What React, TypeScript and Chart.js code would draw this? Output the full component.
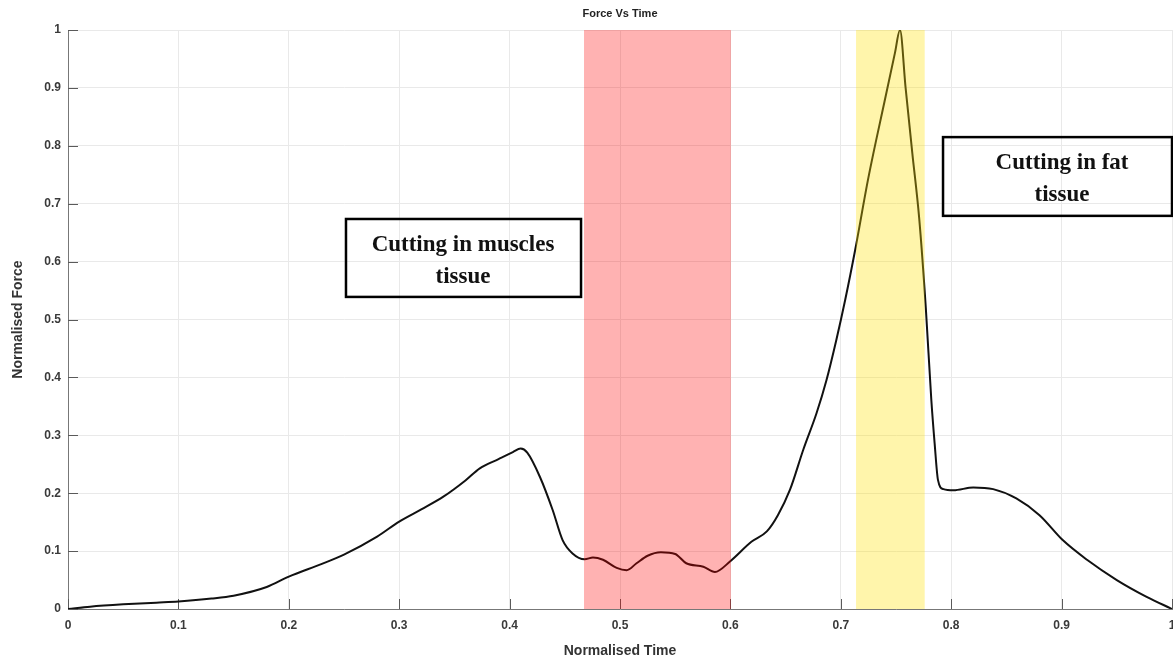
import React, { useEffect, useRef } from "react";
import { Chart, registerables } from "chart.js";

Chart.register(...registerables);

// ---- Data ----
const TIME = [
  0, 0.02, 0.05, 0.08, 0.1, 0.13, 0.15, 0.18, 0.2, 0.23, 0.25, 0.28, 0.3, 0.32, 0.34, 0.36, 0.373, 0.39,
  0.403, 0.41, 0.416, 0.4275, 0.439, 0.448, 0.457, 0.468, 0.4755, 0.4846, 0.497, 0.506, 0.515, 0.525,
  0.537, 0.55, 0.56, 0.5755, 0.586, 0.5996, 0.619, 0.633, 0.643, 0.654, 0.666, 0.678, 0.687, 0.696,
  0.704, 0.713, 0.725, 0.74, 0.749, 0.7536, 0.7587, 0.7648, 0.771, 0.777, 0.782, 0.785, 0.788, 0.793,
  0.802, 0.82, 0.838, 0.859, 0.88, 0.901, 0.923, 0.95, 0.977, 1.0,
];
const FORCE = [
  0, 0.004, 0.008, 0.011, 0.013, 0.018, 0.023, 0.038, 0.056, 0.078, 0.094, 0.125, 0.151, 0.172, 0.194,
  0.222, 0.243, 0.259, 0.271, 0.277, 0.27, 0.228, 0.171, 0.119, 0.096, 0.086, 0.089, 0.085, 0.071, 0.067,
  0.079, 0.092, 0.098, 0.095, 0.079, 0.073, 0.064, 0.082, 0.116, 0.134, 0.162, 0.206, 0.275, 0.338, 0.395,
  0.465, 0.534, 0.62, 0.745, 0.88, 0.96, 1.0, 0.9, 0.787, 0.675, 0.52, 0.361, 0.286, 0.223, 0.207, 0.205,
  0.21, 0.207, 0.191, 0.162, 0.119, 0.085, 0.05, 0.021, 0.0,
];
const X_TICKS = [0, 0.1, 0.2, 0.3, 0.4, 0.5, 0.6, 0.7, 0.8, 0.9, 1];
const X_TICK_LABELS = ["0", "0.1", "0.2", "0.3", "0.4", "0.5", "0.6", "0.7", "0.8", "0.9", "1"];
const Y_TICKS = [0, 0.1, 0.2, 0.3, 0.4, 0.5, 0.6, 0.7, 0.8, 0.9, 1];
const Y_TICK_LABELS = ["0", "0.1", "0.2", "0.3", "0.4", "0.5", "0.6", "0.7", "0.8", "0.9", "1"];
const MUSCLE_BAND = [0.4674, 0.6005];
const FAT_BAND = [0.7138, 0.776];
const MUSCLE_TEXT = ["Cutting in muscles", "tissue"];
const FAT_TEXT = ["Cutting in fat", "tissue"];
const TITLE = "Force Vs Time";

const overlayPlugin = {
  id: "overlay",
  beforeDatasetsDraw(chart: any) {
    const { ctx, chartArea, scales } = chart;
    ctx.save();
    ctx.strokeStyle = "#5a5a5a";
    ctx.lineWidth = 1;
    X_TICKS.forEach((v) => {
      const px = Math.round(scales.x.getPixelForValue(v)) + 0.5;
      ctx.beginPath();
      ctx.moveTo(px, chartArea.bottom);
      ctx.lineTo(px, chartArea.bottom - 10);
      ctx.stroke();
    });
    Y_TICKS.forEach((v) => {
      const py = Math.round(scales.y.getPixelForValue(v)) + 0.5;
      ctx.beginPath();
      ctx.moveTo(chartArea.left, py);
      ctx.lineTo(chartArea.left + 10, py);
      ctx.stroke();
    });
    ctx.restore();
  },
  afterDatasetsDraw(chart: any) {
    const { ctx, chartArea, scales } = chart;
    const xs = scales.x;
    const ys = scales.y;
    ctx.save();
    // shaded bands drawn over the curve
    const band = (r: number[], color: string) => {
      const a = xs.getPixelForValue(r[0]);
      const b = xs.getPixelForValue(r[1]);
      ctx.fillStyle = color;
      ctx.fillRect(a, chartArea.top, b - a, chartArea.bottom - chartArea.top);
    };
    band(MUSCLE_BAND, "rgba(255,0,0,0.3)");
    band(FAT_BAND, "rgba(255,225,0,0.33)");

    // annotation boxes
    const box = (x1: number, x2: number, y1: number, y2: number, tx: number, lines: string[], dy1: number, dy2: number) => {
      const l = xs.getPixelForValue(x1);
      const r = xs.getPixelForValue(x2);
      const t = ys.getPixelForValue(y2);
      const b = ys.getPixelForValue(y1);
      ctx.strokeStyle = "#000";
      ctx.lineWidth = 2.5;
      ctx.strokeRect(l, t, r - l, b - t);
      ctx.fillStyle = "#111";
      ctx.font = "bold 23px 'Liberation Serif', 'Times New Roman', serif";
      ctx.textAlign = "center";
      ctx.textBaseline = "middle";
      const cx = xs.getPixelForValue(tx);
      const cy = (t + b) / 2;
      ctx.fillText(lines[0], cx, cy + dy1);
      ctx.fillText(lines[1], cx, cy + dy2);
    };
    box(0.2518, 0.4647, 0.539, 0.6736, 0.3578, MUSCLE_TEXT, -13, 19);
    box(0.7926, 1.0, 0.679, 0.815, 0.9004, FAT_TEXT, -13, 19);

    // title
    ctx.fillStyle = "#222";
    ctx.font = "bold 11px 'Liberation Sans', Arial, sans-serif";
    ctx.textAlign = "center";
    ctx.textBaseline = "middle";
    ctx.fillText(TITLE, (chartArea.left + chartArea.right) / 2, 14);
    ctx.restore();
  },
};

export default function App() {
  const ref = useRef<HTMLCanvasElement>(null);
  useEffect(() => {
    document.body.style.margin = "0";
    const canvas = ref.current!;
    const chart = new Chart(canvas, {
      type: "line",
      data: {
        datasets: [
          {
            data: TIME.map((t, i) => ({ x: t, y: FORCE[i] })),
            borderColor: "#111",
            borderWidth: 2,
            pointRadius: 0,
            fill: false,
            cubicInterpolationMode: "monotone",
          },
        ],
      },
      options: {
        animation: false,
        responsive: false,
        maintainAspectRatio: false,
        layout: { padding: { top: 30, left: 0, right: 1, bottom: 0 } },
        plugins: {
          legend: { display: false },
          tooltip: { enabled: false },
          title: { display: false },
        },
        scales: {
          x: {
            type: "linear",
            min: 0,
            max: 1,
            afterBuildTicks: (s: any) => {
              s.ticks = X_TICKS.map((v) => ({ value: v }));
            },
            afterFit: (s: any) => {
              s.height = 52;
              s.paddingLeft = 0;
              s.paddingRight = 0;
            },
            ticks: {
              callback: (_v: any, i: number) => X_TICK_LABELS[i],
              color: "#3a3a3a",
              font: { family: "'Liberation Sans', Arial, sans-serif", size: 12, weight: "bold" },
              padding: 9,
              maxRotation: 0,
              autoSkip: false,
            },
            grid: { color: "#e9e9e9", lineWidth: 1, drawTicks: false },
            border: { color: "#777", width: 1 },
            title: {
              display: true,
              text: "Normalised Time",
              color: "#333",
              font: { family: "'Liberation Sans', Arial, sans-serif", size: 14, weight: "bold" },
              padding: { top: 0, bottom: 1 },
            },
          },
          y: {
            type: "linear",
            min: 0,
            max: 1,
            afterBuildTicks: (s: any) => {
              s.ticks = Y_TICKS.map((v) => ({ value: v }));
            },
            afterFit: (s: any) => {
              s.width = 68;
              s.paddingTop = 0;
              s.paddingBottom = 0;
            },
            ticks: {
              callback: (_v: any, i: number) => Y_TICK_LABELS[i],
              color: "#3a3a3a",
              font: { family: "'Liberation Sans', Arial, sans-serif", size: 12, weight: "bold" },
              padding: 7,
              autoSkip: false,
            },
            grid: { color: "#e9e9e9", lineWidth: 1, drawTicks: false },
            border: { color: "#777", width: 1 },
            title: {
              display: true,
              text: "Normalised Force",
              color: "#333",
              font: { family: "'Liberation Sans', Arial, sans-serif", size: 14, weight: "bold" },
              padding: { top: 10, bottom: 0 },
            },
          },
        },
      },
      plugins: [overlayPlugin],
    } as any);
    return () => chart.destroy();
  }, []);
  return (
    <div style={{ position: "absolute", left: 0, top: 0, width: 1173, height: 661 }}>
      <canvas ref={ref} width={1173} height={661} />
    </div>
  );
}
